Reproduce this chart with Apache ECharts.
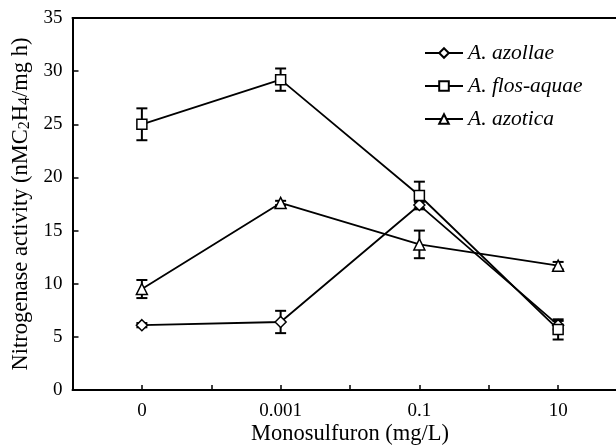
<!DOCTYPE html>
<html>
<head>
<meta charset="utf-8">
<script src="https://cdn.jsdelivr.net/npm/echarts@6/dist/echarts.min.js"></script>
<style>html,body{margin:0;padding:0;background:#fff}#c{width:616px;height:446px}</style>
</head>
<body>
<div id="c"></div>
<script>
const categories = ['0', '0.001', '0.1', '10'];
const seriesNames = ['A. azollae', 'A. flos-aquae', 'A. azotica'];
const azollae = [6.1, 6.4, 17.4, 6.1];
const azollaeErr = [0.2, 1.05, 0.3, 0.4];
const flosAquae = [25.0, 29.2, 18.3, 5.7];
const flosAquaeErr = [1.5, 1.05, 1.3, 0.95];
const azotica = [9.5, 17.6, 13.7, 11.7];
const azoticaErr = [0.85, 0.2, 1.3, 0.35];
const yTicks = [0, 5, 10, 15, 20, 25, 30, 35];

const FONT = 'Liberation Serif';
const chart = echarts.init(document.getElementById('c'), null, {renderer: 'canvas'});

function pts(vals) { return vals.map((v, i) => [i, v]); }
function errData(vals, errs) { return vals.map((v, i) => [i, v - errs[i], v + errs[i]]); }

function errSeries(vals, errs) {
  return {
    type: 'custom',
    z: 1,
    silent: true,
    data: errData(vals, errs),
    renderItem: function (params, api) {
      const x = api.value(0);
      const lo = api.coord([x, api.value(1)]);
      const hi = api.coord([x, api.value(2)]);
      const w = 5.5;
      const st = {stroke: '#000', lineWidth: 2, fill: null};
      return {
        type: 'group',
        children: [
          {type: 'line', shape: {x1: lo[0], y1: lo[1], x2: hi[0], y2: hi[1]}, style: st},
          {type: 'line', shape: {x1: lo[0] - w, y1: lo[1], x2: lo[0] + w, y2: lo[1]}, style: st},
          {type: 'line', shape: {x1: hi[0] - w, y1: hi[1], x2: hi[0] + w, y2: hi[1]}, style: st}
        ]
      };
    }
  };
}

function lineSeries(name, vals, symbol, size) {
  return {
    name: name,
    type: 'line',
    z: 3,
    data: pts(vals),
    symbol: symbol,
    symbolSize: size,
    showAllSymbol: true,
    lineStyle: {color: '#000', width: 1.8},
    itemStyle: {color: '#fff', borderColor: '#000', borderWidth: 1.5},
    emphasis: {disabled: true},
    animation: false
  };
}

const option = {
  animation: false,
  backgroundColor: '#fff',
  grid: {left: 72.5, top: 18, width: 555, height: 372, containLabel: false, outerBoundsMode: 'none'},
  legend: {
    orient: 'vertical',
    left: 419,
    top: 37,
    itemWidth: 38,
    itemHeight: 12,
    itemGap: 11,
    data: seriesNames,
    textStyle: {fontFamily: FONT, fontStyle: 'italic', fontSize: 21.5, color: '#000', lineHeight: 21},
    inactiveColor: '#000'
  },
  xAxis: [{
    type: 'value',
    min: -0.5,
    max: 3.5,
    interval: 0.5,
    name: 'Monosulfuron (mg/L)',
    nameLocation: 'middle',
    nameGap: 33,
    nameMoveOverlap: false,
    nameTextStyle: {fontFamily: FONT, fontSize: 22.5, color: '#000'},
    axisLine: {onZero: false, lineStyle: {color: '#000', width: 2}},
    axisTick: {inside: true, length: 5, lineStyle: {color: '#000', width: 1.5}},
    axisLabel: {
      fontFamily: FONT, fontSize: 19, color: '#000', margin: 12,
      formatter: function (v) { return Number.isInteger(v) ? categories[v] : ''; }
    },
    splitLine: {show: false}
  }, {
    type: 'value',
    position: 'top',
    min: -0.5,
    max: 3.5,
    axisLine: {show: true, onZero: false, lineStyle: {color: '#000', width: 2}},
    axisTick: {show: false},
    axisLabel: {show: false},
    splitLine: {show: false}
  }],
  yAxis: {
    type: 'value',
    min: yTicks[0],
    max: yTicks[yTicks.length - 1],
    interval: 5,
    name: '{n|Nitrogenase activity (nMC}{s|2}{n|H}{s|4}{n|/mg h)}',
    nameLocation: 'middle',
    nameGap: 40,
    nameMoveOverlap: false,
    nameTextStyle: {
      rich: {
        n: {fontFamily: FONT, fontSize: 22.5, color: '#000'},
        s: {fontFamily: FONT, fontSize: 16, color: '#000', verticalAlign: 'bottom'}
      }
    },
    axisLine: {show: true, onZero: false, lineStyle: {color: '#000', width: 2}},
    axisTick: {show: true, inside: true, length: 6, lineStyle: {color: '#000', width: 1.5}},
    axisLabel: {fontFamily: FONT, fontSize: 19, color: '#000', margin: 10},
    splitLine: {show: false}
  },
  series: [
    errSeries(azollae, azollaeErr),
    errSeries(flosAquae, flosAquaeErr),
    errSeries(azotica, azoticaErr),
    lineSeries(seriesNames[0], azollae, 'diamond', 11),
    lineSeries(seriesNames[1], flosAquae, 'rect', 10),
    lineSeries(seriesNames[2], azotica, 'triangle', 11)
  ]
};
chart.setOption(option);
</script>
</body>
</html>
